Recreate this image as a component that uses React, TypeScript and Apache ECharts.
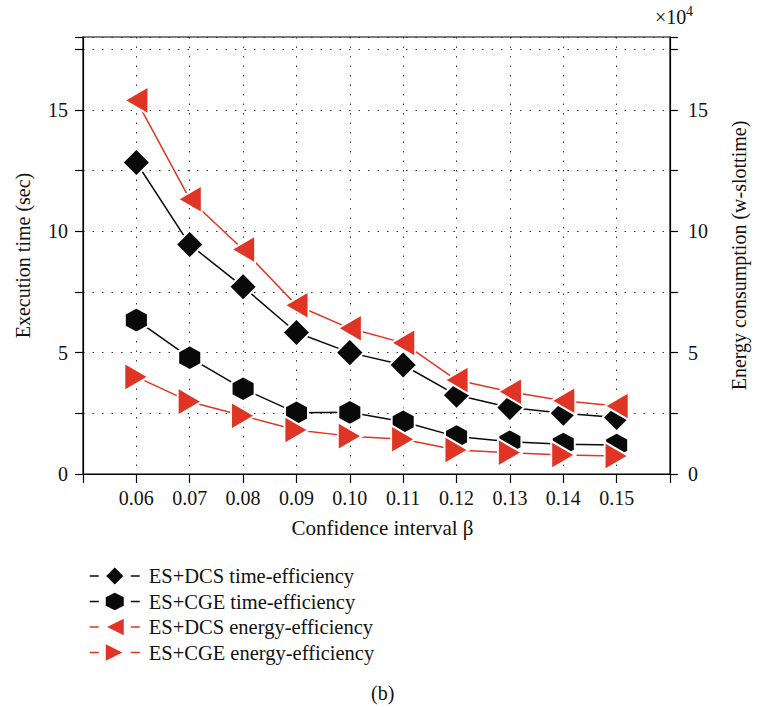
import React, { useEffect, useRef } from 'react';
import * as echarts from 'echarts';

const betaValues = [0.06, 0.07, 0.08, 0.09, 0.1, 0.11, 0.12, 0.13, 0.14, 0.15];
const dcsTime = [12.83, 9.45, 7.71, 5.83, 5.0, 4.49, 3.25, 2.74, 2.5, 2.33];
const cgeTime = [6.34, 4.79, 3.51, 2.52, 2.54, 2.15, 1.54, 1.33, 1.23, 1.19];
const dcsEnergy = [153900, 113200, 92500, 69500, 60000, 54000, 38700, 33900, 30200, 28000];
const cgeEnergy = [40000, 29800, 24000, 18100, 15600, 14300, 9900, 8800, 7800, 7400];

const seriesNames = [
  'ES+DCS time-efficiency',
  'ES+CGE time-efficiency',
  'ES+DCS energy-efficiency',
  'ES+CGE energy-efficiency',
];

const BLACK = '#0a0a0a';
const RED = '#e03524';
const FONT = '"Liberation Serif", "DejaVu Serif", serif';

const HEX = 'path://M43.3,0L86.6,25L86.6,75L43.3,100L0,75L0,25Z';
const LEFT_TRI = 'path://M0,50L86,0L86,100Z';
const RIGHT_TRI = 'path://M0,0L86,50L0,100Z';

const pairs = (vals: number[]) => betaValues.map((b, i) => [b, vals[i]]);

export default function App() {
  const ref = useRef<HTMLDivElement>(null);
  useEffect(() => {
    if (!ref.current) return;
    const chart = echarts.init(ref.current, undefined, { renderer: 'svg' });
    const dotted = { color: '#333', width: 1, type: [1.5, 8] as any };
    const mk = (
      name: string,
      data: number[],
      color: string,
      symbol: string,
      size: number[],
      yAxisIndex: number
    ) => ({
      name,
      type: 'line',
      yAxisIndex,
      data: pairs(data),
      symbol,
      symbolSize: size,
      showAllSymbol: true,
      lineStyle: { color, width: 1.5 },
      itemStyle: { color, borderColor: '#fff', borderWidth: 2 },
    });
    chart.setOption({
      animation: false,
      backgroundColor: '#fff',
      textStyle: { fontFamily: FONT },
      grid: {
        left: 83,
        right: 80,
        top: 37,
        bottom: 233,
        show: true,
        borderColor: '#000',
        borderWidth: 1.2,
      },
      xAxis: {
        type: 'value',
        min: 0.05,
        max: 0.16,
        interval: 0.01,
        name: 'Confidence interval β',
        nameLocation: 'middle',
        nameGap: 43,
        nameTextStyle: { fontFamily: FONT, fontSize: 21, color: '#111', padding: [0, 0, 0, 12] },
        axisLine: { show: true, lineStyle: { color: '#000', width: 1.2 } },
        axisTick: { show: true, length: 9, lineStyle: { color: '#000', width: 1.2 } },
        axisLabel: {
          fontFamily: FONT,
          fontSize: 20,
          color: '#111',
          margin: 14,
          formatter: (v: number) => (v < 0.055 || v > 0.155 ? '' : v.toFixed(2)),
        },
        splitLine: { show: true, lineStyle: dotted },
      },
      yAxis: [
        {
          type: 'value',
          min: 0,
          max: 18,
          interval: 2.5,
          position: 'left',
          name: 'Execution time (sec)',
          nameLocation: 'middle',
          nameRotate: 90,
          nameGap: 50,
          nameTextStyle: { fontFamily: FONT, fontSize: 20, color: '#111' },
          axisLine: { show: true, lineStyle: { color: '#000', width: 1.2 } },
          axisTick: { show: true, length: 8, lineStyle: { color: '#000', width: 1.2 } },
          axisLabel: {
            fontFamily: FONT,
            fontSize: 20,
            color: '#111',
            margin: 15,
            formatter: (v: number) => (Math.abs(v % 5) < 1e-9 ? String(v) : ''),
          },
          splitLine: { show: true, lineStyle: dotted },
        },
        {
          type: 'value',
          min: 0,
          max: 180000,
          interval: 25000,
          position: 'right',
          name: 'Energy consumption (w-slottime)',
          nameLocation: 'middle',
          nameRotate: 90,
          nameGap: 59,
          nameTextStyle: { fontFamily: FONT, fontSize: 20, color: '#111', verticalAlign: 'top' },
          axisLine: { show: true, lineStyle: { color: '#000', width: 1.2 } },
          axisTick: { show: true, length: 8, lineStyle: { color: '#000', width: 1.2 } },
          axisLabel: {
            fontFamily: FONT,
            fontSize: 20,
            color: '#111',
            margin: 18,
            formatter: (v: number) => (v % 50000 === 0 ? String(v / 10000) : ''),
          },
          splitLine: { show: false },
        },
      ],
      legend: {
        orient: 'vertical',
        left: 84,
        top: 560,
        itemWidth: 50,
        itemHeight: 25,
        itemGap: 3.5,
        data: seriesNames,
        textStyle: { fontFamily: FONT, fontSize: 20.5, color: '#111', padding: [0, 0, 0, 4] },
        lineStyle: { type: [9, 32, 9, 0] as any, width: 1.5 },
      },
      graphic: [
        {
          type: 'text',
          left: 655,
          top: 7,
          style: { text: '×10', font: '20px "Liberation Serif"', fill: '#111' },
        },
        {
          type: 'text',
          left: 686,
          top: 4,
          style: { text: '4', font: '14px "Liberation Serif"', fill: '#111' },
        },
        {
          type: 'text',
          left: 371,
          top: 683,
          style: { text: '(b)', font: '20px "Liberation Serif"', fill: '#111' },
        },
      ],
      series: [
        mk(seriesNames[0], dcsTime, BLACK, 'diamond', [28, 28], 0),
        mk(seriesNames[1], cgeTime, BLACK, HEX, [23, 25], 0),
        mk(seriesNames[2], dcsEnergy, RED, LEFT_TRI, [24, 28], 1),
        mk(seriesNames[3], cgeEnergy, RED, RIGHT_TRI, [24, 28], 1),
      ],
    });
    return () => chart.dispose();
  }, []);
  return <div ref={ref} style={{ position: 'fixed', left: 0, top: 0, width: 757, height: 707 }} />;
}
